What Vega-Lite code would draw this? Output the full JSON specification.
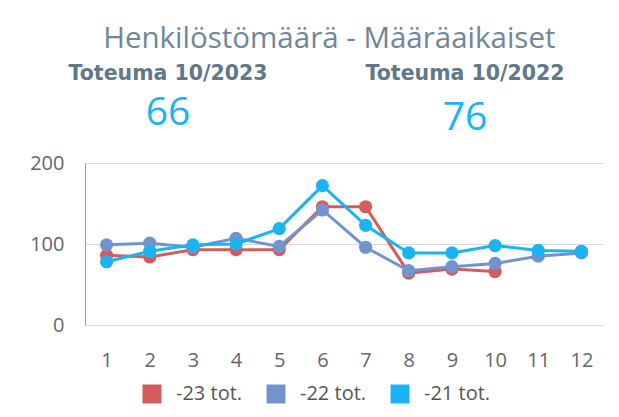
{
  "$schema": "https://vega.github.io/schema/vega-lite/v6.json",
  "background": "white",
  "padding": {"left": 29, "top": 23, "right": 12, "bottom": 8},
  "title": {"text": "Henkilöstömäärä - Määräaikaiset", "font": "Open Sans", "fontSize": 29.5, "fontWeight": "normal", "color": "#6f8796", "anchor": "middle", "offset": -1, "dx": 13},
  "config": {"view": {"stroke": null}, "font": "Open Sans", "legend": {"layout": {"bottom": {"anchor": "middle"}}}},
  "spacing": 10,
  "vconcat": [
    {
      "spacing": 67,
      "hconcat": [
        {
          "width": 166, "height": 90,
          "data": {"values": [{"label": "Toteuma 10/2023", "value": "66"}]},
          "layer": [
            {"mark": {"type": "text", "font": "DejaVu Sans", "fontWeight": "bold", "fontSize": 20.5, "color": "#607888", "baseline": "middle", "dy": -24}, "encoding": {"text": {"field": "label"}}},
            {"mark": {"type": "text", "font": "Open Sans", "fontSize": 39, "color": "#1ab4f2", "baseline": "middle", "dy": 15}, "encoding": {"text": {"field": "value"}}}
          ]
        },
        {
          "width": 260, "height": 90,
          "data": {"values": [{"label": "Toteuma 10/2022", "value": "76"}]},
          "layer": [
            {"mark": {"type": "text", "font": "DejaVu Sans", "fontWeight": "bold", "fontSize": 20.5, "color": "#607888", "baseline": "middle", "dy": -24}, "encoding": {"text": {"field": "label"}}},
            {"mark": {"type": "text", "font": "Open Sans", "fontSize": 39, "color": "#1ab4f2", "baseline": "middle", "dy": 20}, "encoding": {"text": {"field": "value"}}}
          ]
        }
      ]
    },
    {
      "width": 518, "height": 162,
      "data": {"values": [
        {"month": 1, "series": "-23 tot.", "value": 86},
        {"month": 2, "series": "-23 tot.", "value": 84},
        {"month": 3, "series": "-23 tot.", "value": 93},
        {"month": 4, "series": "-23 tot.", "value": 93},
        {"month": 5, "series": "-23 tot.", "value": 93},
        {"month": 6, "series": "-23 tot.", "value": 146},
        {"month": 7, "series": "-23 tot.", "value": 146},
        {"month": 8, "series": "-23 tot.", "value": 64},
        {"month": 9, "series": "-23 tot.", "value": 69},
        {"month": 10, "series": "-23 tot.", "value": 66},
        {"month": 1, "series": "-22 tot.", "value": 99},
        {"month": 2, "series": "-22 tot.", "value": 101},
        {"month": 3, "series": "-22 tot.", "value": 96},
        {"month": 4, "series": "-22 tot.", "value": 107},
        {"month": 5, "series": "-22 tot.", "value": 97},
        {"month": 6, "series": "-22 tot.", "value": 142},
        {"month": 7, "series": "-22 tot.", "value": 96},
        {"month": 8, "series": "-22 tot.", "value": 67},
        {"month": 9, "series": "-22 tot.", "value": 72},
        {"month": 10, "series": "-22 tot.", "value": 76},
        {"month": 11, "series": "-22 tot.", "value": 85},
        {"month": 12, "series": "-22 tot.", "value": 89},
        {"month": 1, "series": "-21 tot.", "value": 78},
        {"month": 2, "series": "-21 tot.", "value": 91},
        {"month": 3, "series": "-21 tot.", "value": 99},
        {"month": 4, "series": "-21 tot.", "value": 100},
        {"month": 5, "series": "-21 tot.", "value": 119},
        {"month": 6, "series": "-21 tot.", "value": 172},
        {"month": 7, "series": "-21 tot.", "value": 123},
        {"month": 8, "series": "-21 tot.", "value": 89},
        {"month": 9, "series": "-21 tot.", "value": 89},
        {"month": 10, "series": "-21 tot.", "value": 98},
        {"month": 11, "series": "-21 tot.", "value": 92},
        {"month": 12, "series": "-21 tot.", "value": 91}
      ]},
      "mark": {"type": "line", "strokeWidth": 3, "point": {"filled": true, "size": 175, "opacity": 1}},
      "encoding": {
        "x": {"field": "month", "type": "ordinal", "scale": {"type": "point", "padding": 0.5},
              "axis": {"title": null, "labelAngle": 0, "ticks": false, "domain": false, "grid": false, "labelPadding": 25, "labelFontSize": 20, "labelColor": "#666666", "labelFont": "Open Sans"}},
        "y": {"field": "value", "type": "quantitative", "scale": {"domain": [0, 200], "nice": false},
              "axis": {"title": null, "values": [0, 100, 200], "ticks": false, "labelPadding": 21, "labelFontSize": 20, "labelColor": "#666666", "labelFont": "Open Sans", "domainColor": "#999999", "gridColor": "#d9d9d9"}},
        "color": {"field": "series", "type": "nominal",
                  "scale": {"domain": ["-23 tot.", "-22 tot.", "-21 tot."], "range": ["#d35c5c", "#7393cc", "#1bb4f3"]},
                  "legend": {"title": null, "orient": "bottom", "direction": "horizontal", "symbolType": "square", "symbolSize": 361, "symbolStrokeWidth": 0, "labelFontSize": 20, "labelColor": "#555555", "labelFont": "Open Sans", "columnPadding": 23, "labelOffset": 14, "offset": 14}}
      }
    }
  ]
}
